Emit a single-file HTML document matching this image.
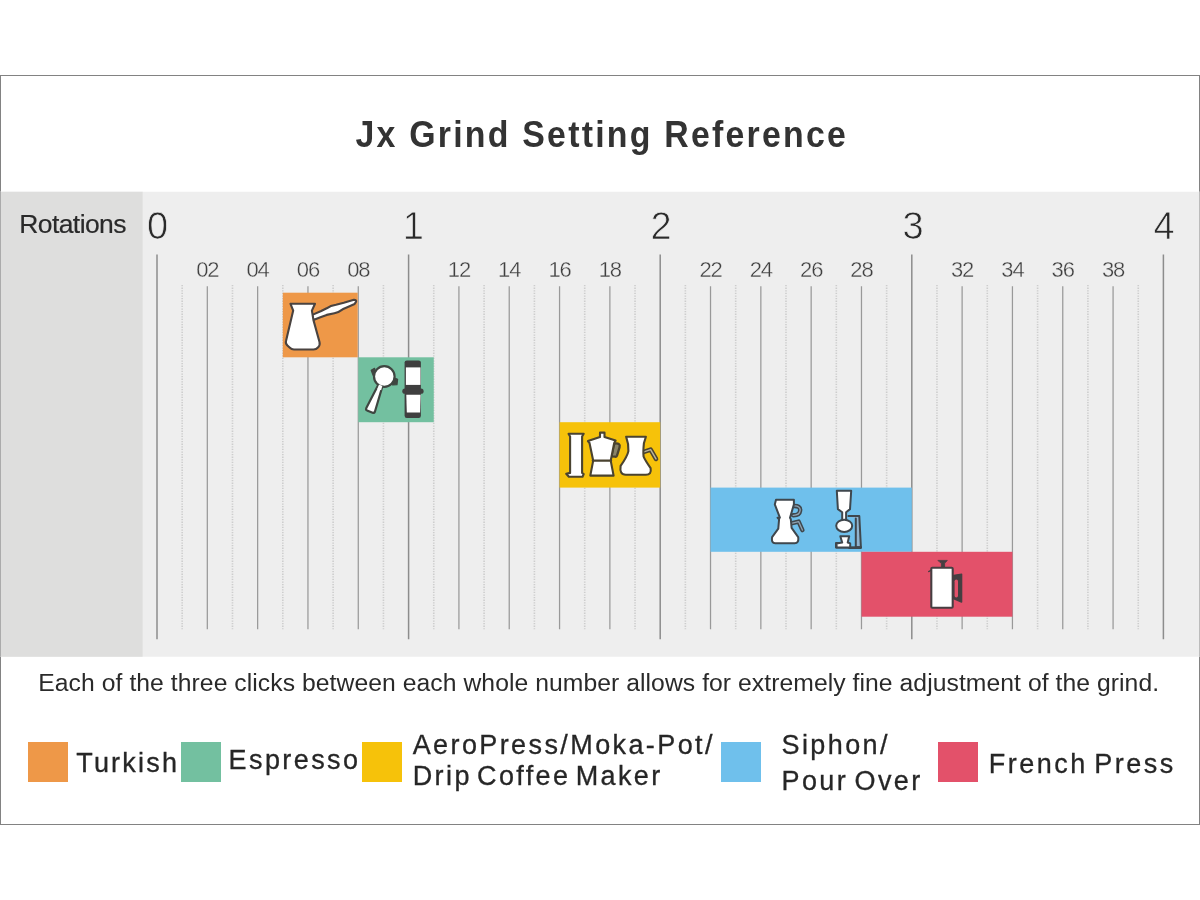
<!DOCTYPE html>
<html lang="en">
<head>
<meta charset="utf-8">
<title>Jx Grind Setting Reference</title>
<style>
html,body{margin:0;padding:0;background:#fff;}
body{width:1200px;height:900px;position:relative;overflow:hidden;font-family:"Liberation Sans",sans-serif;color:#2e2e2e;}
.frame{position:absolute;left:0;top:75px;width:1198px;height:748px;border:1px solid #828282;background:#fff;}
svg.chart{position:absolute;left:0;top:0;}
.rotl{position:absolute;left:19.3px;top:207.5px;font-size:26.5px;line-height:32px;letter-spacing:-0.6px;color:#2a2a2a;-webkit-text-stroke:0.2px #2a2a2a;white-space:nowrap;}
h1{position:absolute;left:0;top:114.8px;width:1203.7px;margin:0;text-align:center;font-size:36px;line-height:40px;font-weight:bold;letter-spacing:2.38px;transform:scaleX(0.94);transform-origin:600.65px 0;color:#333;white-space:nowrap;}
.sm{position:absolute;top:258px;width:40px;text-align:center;font-size:22px;line-height:24px;letter-spacing:-1.1px;color:#404040;-webkit-text-stroke:0.35px #eee;}
.bg{position:absolute;top:204px;width:40px;text-align:center;font-size:38px;line-height:44px;color:#2a2a2a;-webkit-text-stroke:0.75px #eee;}
.cap{position:absolute;left:38.3px;top:669.3px;font-size:24.7px;line-height:28px;letter-spacing:0.065px;color:#2a2a2a;white-space:nowrap;}
.sw{position:absolute;top:742.3px;width:39.8px;height:39.6px;}
.lg{position:absolute;font-size:27px;line-height:30px;letter-spacing:2.4px;word-spacing:-3.5px;color:#262626;-webkit-text-stroke:0.3px #262626;white-space:nowrap;}
</style>
</head>
<body>
<div class="frame"></div>
<h1>Jx Grind Setting Reference</h1>
<svg class="chart" width="1200" height="900" viewBox="0 0 1200 900">
<rect x="0" y="191.75" width="1200" height="465" fill="#eeeeee"/>
<rect x="0" y="191.75" width="142.6" height="465" fill="#dededd"/>
<rect x="0" y="191.75" width="1" height="465" fill="#ababab"/>
<rect x="1199" y="191.75" width="1" height="465" fill="#bcbcbc"/>
<g>
<line x1="157.00" y1="254.4" x2="157.00" y2="639.3" stroke="#8c8c8c" stroke-width="1.5"/>
<line x1="182.16" y1="285" x2="182.16" y2="629.3" stroke="#cdcdcd" stroke-width="1.6" stroke-dasharray="1.3 1.3"/>
<line x1="207.32" y1="286.3" x2="207.32" y2="629.3" stroke="#999" stroke-width="1.25"/>
<line x1="232.48" y1="285" x2="232.48" y2="629.3" stroke="#cdcdcd" stroke-width="1.6" stroke-dasharray="1.3 1.3"/>
<line x1="257.64" y1="286.3" x2="257.64" y2="629.3" stroke="#999" stroke-width="1.25"/>
<line x1="282.80" y1="285" x2="282.80" y2="629.3" stroke="#cdcdcd" stroke-width="1.6" stroke-dasharray="1.3 1.3"/>
<line x1="307.96" y1="286.3" x2="307.96" y2="629.3" stroke="#999" stroke-width="1.25"/>
<line x1="333.12" y1="285" x2="333.12" y2="629.3" stroke="#cdcdcd" stroke-width="1.6" stroke-dasharray="1.3 1.3"/>
<line x1="358.28" y1="286.3" x2="358.28" y2="629.3" stroke="#999" stroke-width="1.25"/>
<line x1="383.44" y1="285" x2="383.44" y2="629.3" stroke="#cdcdcd" stroke-width="1.6" stroke-dasharray="1.3 1.3"/>
<line x1="408.60" y1="254.4" x2="408.60" y2="639.3" stroke="#8c8c8c" stroke-width="1.5"/>
<line x1="433.76" y1="285" x2="433.76" y2="629.3" stroke="#cdcdcd" stroke-width="1.6" stroke-dasharray="1.3 1.3"/>
<line x1="458.92" y1="286.3" x2="458.92" y2="629.3" stroke="#999" stroke-width="1.25"/>
<line x1="484.08" y1="285" x2="484.08" y2="629.3" stroke="#cdcdcd" stroke-width="1.6" stroke-dasharray="1.3 1.3"/>
<line x1="509.24" y1="286.3" x2="509.24" y2="629.3" stroke="#999" stroke-width="1.25"/>
<line x1="534.40" y1="285" x2="534.40" y2="629.3" stroke="#cdcdcd" stroke-width="1.6" stroke-dasharray="1.3 1.3"/>
<line x1="559.56" y1="286.3" x2="559.56" y2="629.3" stroke="#999" stroke-width="1.25"/>
<line x1="584.72" y1="285" x2="584.72" y2="629.3" stroke="#cdcdcd" stroke-width="1.6" stroke-dasharray="1.3 1.3"/>
<line x1="609.88" y1="286.3" x2="609.88" y2="629.3" stroke="#999" stroke-width="1.25"/>
<line x1="635.04" y1="285" x2="635.04" y2="629.3" stroke="#cdcdcd" stroke-width="1.6" stroke-dasharray="1.3 1.3"/>
<line x1="660.20" y1="254.4" x2="660.20" y2="639.3" stroke="#8c8c8c" stroke-width="1.5"/>
<line x1="685.36" y1="285" x2="685.36" y2="629.3" stroke="#cdcdcd" stroke-width="1.6" stroke-dasharray="1.3 1.3"/>
<line x1="710.52" y1="286.3" x2="710.52" y2="629.3" stroke="#999" stroke-width="1.25"/>
<line x1="735.68" y1="285" x2="735.68" y2="629.3" stroke="#cdcdcd" stroke-width="1.6" stroke-dasharray="1.3 1.3"/>
<line x1="760.84" y1="286.3" x2="760.84" y2="629.3" stroke="#999" stroke-width="1.25"/>
<line x1="786.00" y1="285" x2="786.00" y2="629.3" stroke="#cdcdcd" stroke-width="1.6" stroke-dasharray="1.3 1.3"/>
<line x1="811.16" y1="286.3" x2="811.16" y2="629.3" stroke="#999" stroke-width="1.25"/>
<line x1="836.32" y1="285" x2="836.32" y2="629.3" stroke="#cdcdcd" stroke-width="1.6" stroke-dasharray="1.3 1.3"/>
<line x1="861.48" y1="286.3" x2="861.48" y2="629.3" stroke="#999" stroke-width="1.25"/>
<line x1="886.64" y1="285" x2="886.64" y2="629.3" stroke="#cdcdcd" stroke-width="1.6" stroke-dasharray="1.3 1.3"/>
<line x1="911.80" y1="254.4" x2="911.80" y2="639.3" stroke="#8c8c8c" stroke-width="1.5"/>
<line x1="936.96" y1="285" x2="936.96" y2="629.3" stroke="#cdcdcd" stroke-width="1.6" stroke-dasharray="1.3 1.3"/>
<line x1="962.12" y1="286.3" x2="962.12" y2="629.3" stroke="#999" stroke-width="1.25"/>
<line x1="987.28" y1="285" x2="987.28" y2="629.3" stroke="#cdcdcd" stroke-width="1.6" stroke-dasharray="1.3 1.3"/>
<line x1="1012.44" y1="286.3" x2="1012.44" y2="629.3" stroke="#999" stroke-width="1.25"/>
<line x1="1037.60" y1="285" x2="1037.60" y2="629.3" stroke="#cdcdcd" stroke-width="1.6" stroke-dasharray="1.3 1.3"/>
<line x1="1062.76" y1="286.3" x2="1062.76" y2="629.3" stroke="#999" stroke-width="1.25"/>
<line x1="1087.92" y1="285" x2="1087.92" y2="629.3" stroke="#cdcdcd" stroke-width="1.6" stroke-dasharray="1.3 1.3"/>
<line x1="1113.08" y1="286.3" x2="1113.08" y2="629.3" stroke="#999" stroke-width="1.25"/>
<line x1="1138.24" y1="285" x2="1138.24" y2="629.3" stroke="#cdcdcd" stroke-width="1.6" stroke-dasharray="1.3 1.3"/>
<line x1="1163.40" y1="254.4" x2="1163.40" y2="639.3" stroke="#8c8c8c" stroke-width="1.5"/>
</g>
<rect x="282.80" y="292.7" width="74.88" height="64.60" fill="#ee9848"/>
<rect x="358.28" y="357.3" width="75.48" height="64.90" fill="#73c0a0"/>
<rect x="559.56" y="422.2" width="100.64" height="65.40" fill="#f6c20a"/>
<rect x="710.52" y="487.6" width="201.28" height="64.20" fill="#6fc0ec"/>
<rect x="861.48" y="551.8" width="150.96" height="64.90" fill="#e3516a"/>
<g id="icons" fill="#fff" stroke="#4a4340" stroke-width="2.1" stroke-linejoin="round" stroke-linecap="round">
<!-- turkish cezve -->
<path d="M312.3 314.9 L321.2 311 L326.7 308.3 Q330.5 305.6 336 304.8 L343.8 302.8 L353.9 299.7 Q357 300 355.9 301.9 L354.6 304 L348.4 306.7 L343.8 308.7 Q339.1 312.3 334.4 313.3 L326.7 314.9 L320.4 317.2 L313.4 319.9 Z"/>
<path d="M290.5 303.8 L315 303.8 L311.9 310.6 L313.4 319.9 L319.5 342 Q320.3 345 318.2 347.3 Q316.2 349.5 313.5 349.5 L294 349.5 Q291.5 349.5 289.6 347.6 L287.4 345.5 Q285.3 343.5 286 341 L293.2 310.6 Z"/>
<!-- portafilter -->
<g stroke="#3f4641" stroke-width="2.2">
<path d="M371.2 370.3 L374.6 368.3 L376 376 L373.2 375.6 Z M394 377.8 L397.6 379.3 L397 384.6 L392.6 385 Z" fill="#3f4641" stroke-width="1.2"/>
<path d="M378.2 385 L382.3 386.8 L374.9 411.7 Q374.2 413.3 372.6 412.7 L367 410.4 Q365.6 409.6 366.3 408.1 Z"/>
<circle cx="384.3" cy="376.5" r="10.3"/>
<path d="M379.1 384.6 L382.3 386 L381.1 390.3 L377.3 388.7 Z" fill="#fff" stroke="none"/>
</g>
<!-- hand grinder -->
<g stroke="none">
<rect x="404.6" y="360.4" width="16.3" height="57.6" rx="2.2" fill="#3f3f3f"/>
<rect x="402.3" y="388.6" width="21.3" height="5.2" rx="2.6" fill="#3f3f3f"/>
<rect x="405.9" y="367.4" width="14.6" height="17.5" fill="#fff"/>
<path d="M406.3 394.7 L420.6 394.7 L420.1 412.5 L406.8 412.5 Z" fill="#fff"/>
</g>
<!-- aeropress -->
<g stroke="#4a4330">
<path d="M568.5 433.8 L583.7 433.8 L582.1 436.5 L582.1 472.9 L583.7 474 L582.5 476.8 L568.9 476.8 L566.2 473.7 L570.1 472.9 L570.1 436.5 Z"/>
<!-- moka pot -->
<path d="M614.6 443.6 Q620.8 442.8 619.6 447.2 L617 455.6 Q616.5 456.9 615 456.7 L611.5 456.3 L613.6 446 Z" fill="#8a8468" stroke-width="2.3"/>
<path d="M600 436.9 L600 432.6 L604.5 432.6 L604.5 436.9 L615.6 440.6 L614.2 443 L610.9 459.7 L610.9 461.6 L613.6 475.6 L590.3 475.6 L593 461.6 L593 459.7 L589.5 443 L587.9 441 Z"/>
<path d="M593 460.6 L610.9 460.6" stroke-width="2.4" fill="none"/>
<!-- drip carafe -->
<path d="M643.9 451.9 L650.6 449.6 L656 458.9" fill="none" stroke-width="4.6"/>
<path d="M643.9 451.9 L650.6 449.6 L656 458.9" fill="none" stroke="#b9b39a" stroke-width="1.5"/>
<path d="M626.1 436.7 L645.9 436.7 L643.9 443.3 Q643 452 643.6 456.6 Q645 460 650.6 468.2 Q651.8 474.8 645.9 474.8 L625.7 474.8 Q619.3 474.8 620.6 465.9 Q627.5 456 628.4 451.1 Q628.8 444 626.1 436.7 Z"/>
</g>
<!-- pour over -->
<g stroke="#3f474d" stroke-width="2">
<path d="M793.1 506 Q800.8 505.5 800.1 510.7 Q799.5 515.5 793.1 515.3" fill="none" stroke-width="4.4"/>
<path d="M793.1 506 Q800.8 505.5 800.1 510.7 Q799.5 515.5 793.1 515.3" fill="none" stroke="#8fa3b3" stroke-width="1.3"/>
<path d="M792.3 523.1 L798.6 521.6 L802.4 530.1" fill="none" stroke-width="4.4"/>
<path d="M792.3 523.1 L798.6 521.6 L802.4 530.1" fill="none" stroke="#8fa3b3" stroke-width="1.3"/>
<path d="M776 499.8 L793.9 499.8 L793.9 504.4 L790 517.7 L790.8 519.2 L791.6 527.8 L798.2 537.1 Q799 543.3 794.7 543.3 L775.2 543.3 Q771.2 543.3 772.1 537.1 L778.3 528.6 L779.1 519.2 L777.6 517.7 L779.9 517.7 L774.8 504.4 Z"/>
<!-- siphon -->
<path d="M848.4 516.1 L859.3 516.1 L860.9 547.2 L855.8 547.2 L855.8 518.5" fill="#8fb4d0"/>
<path d="M836 543 L849 543 L849 548 L860.9 548 L860.9 547.2 L836 547.6 Z" fill="#fff"/>
<path d="M840.3 536.3 L849.2 536.3 L847.7 542.6 L850.2 543.4 L850.2 547.4 L836.6 547.4 L836.6 543.4 L842.2 542.6 Z"/>
<path d="M836.8 490.8 L851.2 490.8 L850 509.1 L846.1 512.2 L846.1 520 L842.2 520 L842.2 512.2 L837.9 509.1 Z"/>
<ellipse cx="844.2" cy="525.8" rx="8" ry="6.1"/>
</g>
<!-- french press -->
<g stroke="#463f42">
<path d="M952.3 575.6 L961.6 574.1 L961.6 602.1 L952.3 598.2 Z" fill="#463f42" stroke-width="1.4"/>
<rect x="954.6" y="579.6" width="3.4" height="17.8" rx="1.7" fill="#e3516a" stroke="none"/>
<path d="M938.3 560.4 L947.3 560.4 L945.4 562.6 L944.6 562.6 L944.6 567 L941.4 567 L941.4 562.6 L940.4 562.6 Z" fill="#463f42" stroke-width="0.8"/>
<path d="M928.6 571.6 L931 570.4" fill="none" stroke-width="1.2"/>
<rect x="931.3" y="567.7" width="21.4" height="40" rx="1"/>
</g>
</g>

</svg>
<div class="rotl">Rotations</div>
<div class="bg" style="left:137.70px">0</div>
<div class="bg" style="left:393.30px">1</div>
<div class="bg" style="left:641.20px">2</div>
<div class="bg" style="left:893.00px">3</div>
<div class="bg" style="left:1144.20px">4</div>
<div class="sm" style="left:187.32px">02</div>
<div class="sm" style="left:237.64px">04</div>
<div class="sm" style="left:287.96px">06</div>
<div class="sm" style="left:338.28px">08</div>
<div class="sm" style="left:438.92px">12</div>
<div class="sm" style="left:489.24px">14</div>
<div class="sm" style="left:539.56px">16</div>
<div class="sm" style="left:589.88px">18</div>
<div class="sm" style="left:690.52px">22</div>
<div class="sm" style="left:740.84px">24</div>
<div class="sm" style="left:791.16px">26</div>
<div class="sm" style="left:841.48px">28</div>
<div class="sm" style="left:942.12px">32</div>
<div class="sm" style="left:992.44px">34</div>
<div class="sm" style="left:1042.76px">36</div>
<div class="sm" style="left:1093.08px">38</div>
<div class="cap">Each of the three clicks between each whole number allows for extremely fine adjustment of the grind.</div>
<div class="sw" style="left:28.2px;background:#ee9848"></div>
<div class="lg" style="left:76.2px;top:748px;letter-spacing:2.2px">Turkish</div>
<div class="sw" style="left:181.2px;background:#73c0a0"></div>
<div class="lg" style="left:228.6px;top:745px">Espresso</div>
<div class="sw" style="left:362.2px;background:#f6c20a"></div>
<div class="lg" style="left:412.7px;top:730px">AeroPress/Moka-Pot/</div>
<div class="lg" style="left:412.7px;top:761px;word-spacing:-4.7px">Drip Coffee Maker</div>
<div class="sw" style="left:721px;background:#6fc0ec"></div>
<div class="lg" style="left:781.5px;top:730px">Siphon/</div>
<div class="lg" style="left:781.5px;top:766px">Pour Over</div>
<div class="sw" style="left:938.4px;background:#e3516a"></div>
<div class="lg" style="left:988.7px;top:749px;letter-spacing:2.5px">French Press</div>
</body>
</html>
